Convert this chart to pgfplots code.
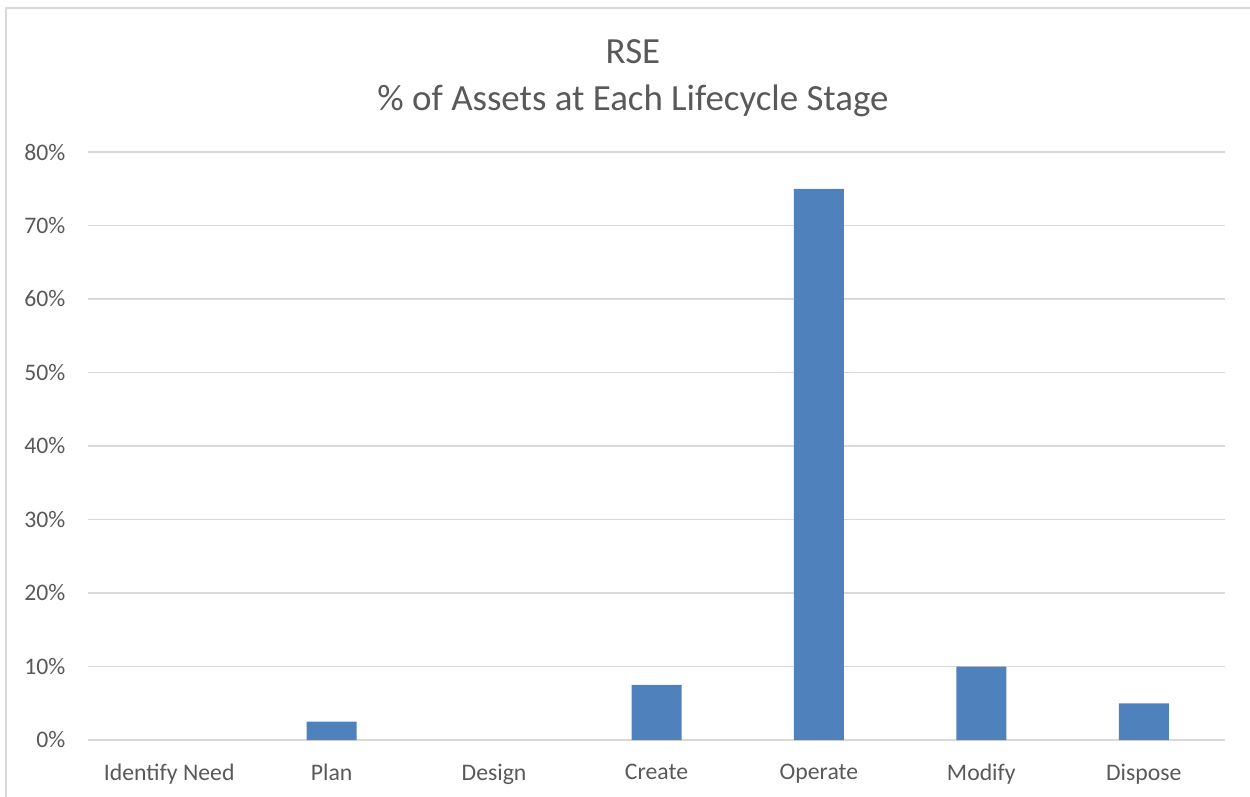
\documentclass[border=0pt]{standalone}
\usepackage{pgfplots}
\pgfplotsset{compat=1.18}
\usepackage{fontspec}
\setmainfont{Carlito}
\definecolor{barblue}{HTML}{4F81BD}
\definecolor{gridgray}{HTML}{D9D9D9}
\definecolor{txt}{HTML}{595959}
\begin{document}
\begin{tikzpicture}[x=0.2mm,y=0.2mm]
\path[use as bounding box] (0,0) rectangle (1250,796);
\draw[gridgray, line width=0.5mm] (6,-20) -- (6,788) -- (1270,788);
\node[txt, font=\fontsize{21}{25}\selectfont] at (633,744) {RSE};
\node[txt, font=\fontsize{21}{25}\selectfont] at (633,695) {\% of Assets at Each Lifecycle Stage};
\begin{axis}[
  at={(17.6mm,11.2mm)}, anchor=south west,
  scale only axis, width=227.4mm, height=117.6mm,
  xmin=-0.5, xmax=6.5, ymin=0, ymax=80,
  ytick={0,10,...,80},
  yticklabels={0\%,10\%,20\%,30\%,40\%,50\%,60\%,70\%,80\%},
  xtick={0,...,6},
  xticklabels={Identify Need,Plan,Design,Create,Operate,Modify,Dispose},
  axis line style={draw=none},
  ymajorgrids, grid style={gridgray, line width=0.35mm},
  major tick length=0pt,
  tick label style={txt, font=\fontsize{13.5}{16}\selectfont},
  yticklabel style={xshift=-3.3mm},
  xticklabel style={yshift=-3.5mm},
  ybar, bar width=10mm,
  unbounded coords=discard,
]
\addplot[fill=barblue, draw=none, y filter/.expression={y==0 ? nan : y}]
  coordinates {(0,0) (1,2.5) (2,0) (3,7.5) (4,75) (5,10) (6,5)};
\end{axis}
\end{tikzpicture}
\end{document}
